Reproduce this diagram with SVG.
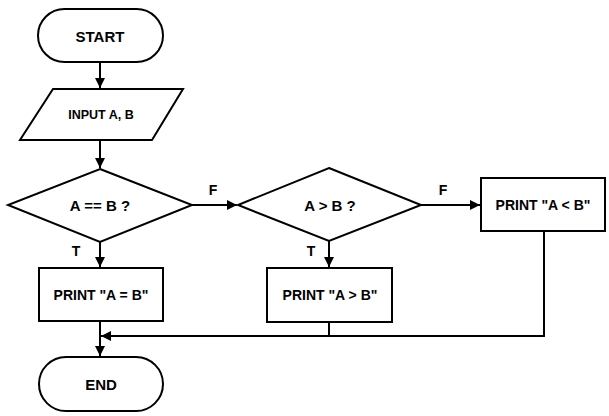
<svg xmlns="http://www.w3.org/2000/svg" width="609" height="416" viewBox="0 0 609 416">
<style>
.s{fill:#fff;stroke:#000;stroke-width:2}
.t{font-family:"Liberation Sans",Arial,sans-serif;font-weight:bold;font-size:14px;text-anchor:middle;dominant-baseline:central;fill:#000}
.c{fill:none;stroke:#000;stroke-width:2}
</style>
<defs>
<marker id="ah" viewBox="0 0 10 10" refX="10" refY="5" markerWidth="5" markerHeight="5" orient="auto" markerUnits="strokeWidth">
<path d="M0,0L10,5L0,10z" fill="#000"/>
</marker>
</defs>
<rect width="609" height="416" fill="#fff"/>
<g id="connectors">
<line class="c" x1="100" y1="62" x2="100" y2="88" marker-end="url(#ah)"/>
<line class="c" x1="100" y1="140" x2="100" y2="168" marker-end="url(#ah)"/>
<line class="c" x1="192" y1="205" x2="237" y2="205" marker-end="url(#ah)"/>
<line class="c" x1="421" y1="205" x2="480" y2="205" marker-end="url(#ah)"/>
<line class="c" x1="100" y1="242" x2="100" y2="267" marker-end="url(#ah)"/>
<line class="c" x1="329" y1="241" x2="329" y2="267" marker-end="url(#ah)"/>
<line class="c" x1="100" y1="321" x2="100" y2="356" marker-end="url(#ah)"/>
<line class="c" x1="329" y1="322" x2="329" y2="336"/>
<polyline class="c" points="544,231 544,336 101,336" marker-end="url(#ah)"/>
<text class="t" x="213" y="190">F</text>
<text class="t" x="443" y="190">F</text>
<text class="t" x="76" y="251">T</text>
<text class="t" x="311" y="251">T</text>
</g>
<g id="start">
<rect class="s" x="38" y="9" width="125" height="53" rx="26.5"/>
<text class="t" x="100" y="36" style="font-size:15px">START</text>
</g>
<g id="input">
<polygon class="s" points="53,89 183,89 152,140 20,140"/>
<text class="t" x="101" y="115" style="font-size:12.5px">INPUT A, B</text>
</g>
<g id="dec1">
<polygon class="s" points="100,169 192,205 100,242 8,205"/>
<text class="t" x="100" y="205" style="font-size:15px">A == B ?</text>
</g>
<g id="dec2">
<polygon class="s" points="329,168 421,205 329,241 238,205"/>
<text class="t" x="330" y="205" style="font-size:15px">A &gt; B ?</text>
</g>
<g id="printEq">
<rect class="s" x="39" y="268" width="124" height="53"/>
<text class="t" x="101" y="295">PRINT "A = B"</text>
</g>
<g id="printGt">
<rect class="s" x="267" y="268" width="125" height="54"/>
<text class="t" x="330" y="295">PRINT "A &gt; B"</text>
</g>
<g id="printLt">
<rect class="s" x="481" y="178" width="124" height="53"/>
<text class="t" x="543" y="205">PRINT "A &lt; B"</text>
</g>
<g id="end">
<rect class="s" x="39" y="357" width="124" height="54" rx="27"/>
<text class="t" x="101" y="384" style="font-size:15px">END</text>
</g>
</svg>
